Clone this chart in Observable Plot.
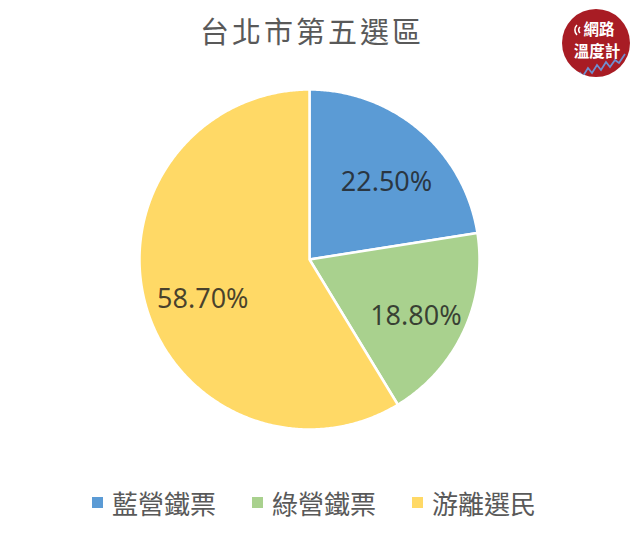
<!DOCTYPE html>
<html><head><meta charset="utf-8">
<script src="https://cdn.jsdelivr.net/npm/d3@7"></script>
<script src="https://cdn.jsdelivr.net/npm/@observablehq/plot@0.6"></script>
<style>
html,body{margin:0;padding:0;background:#fff;}
#wrap{position:relative;width:640px;height:537px;overflow:hidden;font-family:"Noto Sans","Noto Sans CJK TC",sans-serif;}
#title{height:62px;line-height:60px;text-align:center;padding-right:16px;font-family:"Noto Sans CJK TC","Noto Sans",sans-serif;font-size:29px;letter-spacing:3px;color:#595959;}
#legend{display:flex;justify-content:flex-start;align-items:center;gap:36px;height:60px;padding-left:92px;font-family:"Noto Sans CJK TC",sans-serif;font-size:26px;color:#595959;}
.item{display:flex;align-items:center;}
.sw{width:11px;height:11px;margin-right:9px;}
#logo{position:absolute;left:562px;top:9px;}
</style></head>
<body><div id="wrap">
<div id="title"></div>
<div id="chart"></div>
<div id="legend"></div>
<svg id="logo" width="68" height="68" viewBox="0 0 68 68">
<defs><clipPath id="lc"><circle cx="34" cy="34" r="34"/></clipPath></defs>
<circle cx="34" cy="34" r="34" fill="#A81C24"/>
<path d="M15,16 A7,7 0 0 0 15,26 M18,18 A4,4 0 0 0 18,24" fill="none" stroke="#fff" stroke-width="1.6"/>
<text x="37" y="26" text-anchor="middle" fill="#fff" font-family="Noto Sans CJK TC" font-weight="bold" font-size="15.5">網路</text>
<text x="35" y="48" text-anchor="middle" fill="#fff" font-family="Noto Sans CJK TC" font-weight="bold" font-size="15.5">溫度計</text>
<polyline clip-path="url(#lc)" points="12,68 18,64 21,67 26,59 30,64 35,56 39,61 44,53 48,58 53,51 57,54 63,45" fill="none" stroke="#6f8fd0" stroke-width="1.8"/>
</svg>
</div>
<script>
const title = "台北市第五選區";
const categories = ["藍營鐵票", "綠營鐵票", "游離選民"];
const values = [22.5, 18.8, 58.7];
const labels = ["22.50%", "18.80%", "58.70%"];
const colors = ["#5B9BD5", "#A9D18E", "#FFD966"];

document.getElementById("title").textContent = title;

// build slice polygons from the values
const total = d3.sum(values);
const pts = [];
const labelPts = [];
let acc = 0;
categories.forEach((name, i) => {
  const a0 = acc / total * 2 * Math.PI;
  acc += values[i];
  const a1 = acc / total * 2 * Math.PI;
  pts.push({name, x: 0, y: 0});
  const n = Math.max(2, Math.ceil((a1 - a0) / (Math.PI / 360)));
  for (let k = 0; k <= n; k++) {
    const a = a0 + (a1 - a0) * k / n;
    pts.push({name, x: Math.sin(a), y: Math.cos(a)});
  }
  pts.push({name, x: 0, y: 0});
  const m = (a0 + a1) / 2;
  labelPts.push({name, label: labels[i], x: 0.67 * Math.sin(m), y: 0.67 * Math.cos(m)});
});

const cx = 309, cy = 197, r = 170;
const chart = Plot.plot({
  width: 640,
  height: 410,
  margin: 0,
  x: {domain: [-1, 1], range: [cx - r, cx + r], axis: null},
  y: {domain: [-1, 1], range: [cy + r, cy - r], axis: null},
  color: {domain: categories, range: colors},
  marks: [
    Plot.line(pts, {x: "x", y: "y", z: "name", fill: "name", stroke: "white", strokeWidth: 2.5, strokeLinejoin: "round", curve: "linear"}),
    Plot.text(labelPts, {x: "x", y: "y", text: "label", dx: 3, dy: 9, fill: "#1f1f1f", fillOpacity: 0.82, fontSize: 27, fontFamily: "Noto Sans, sans-serif"})
  ]
});
document.getElementById("chart").appendChild(chart);

const leg = document.getElementById("legend");
categories.forEach((c, i) => {
  const it = document.createElement("div");
  it.className = "item";
  const sw = document.createElement("span");
  sw.className = "sw";
  sw.style.background = colors[i];
  const t = document.createElement("span");
  t.textContent = c;
  it.appendChild(sw); it.appendChild(t);
  leg.appendChild(it);
});
</script>
</body></html>
